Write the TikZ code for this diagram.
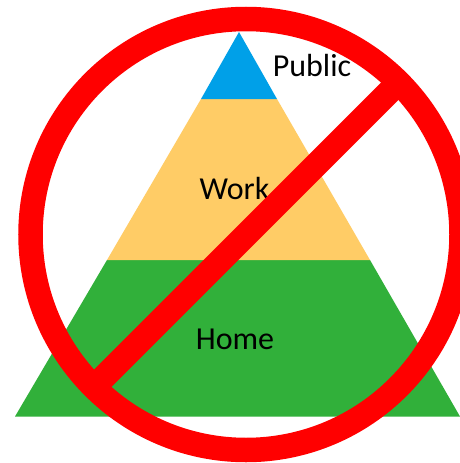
\documentclass[tikz,border=0pt]{standalone}
\usepackage{fontspec}
\setmainfont{Carlito}
\definecolor{tblue}{HTML}{00A0E8}
\definecolor{tyellow}{HTML}{FFCC66}
\definecolor{tgreen}{HTML}{31B03A}
\definecolor{tred}{HTML}{FF0000}
\begin{document}
\begin{tikzpicture}[x=1pt,y=-1pt,
  lbl/.style={font=\fontsize{32}{34}\selectfont,text=black,inner sep=0pt,anchor=base}]
\useasboundingbox (0,0) rectangle (460,463);
\fill[white] (0,0) rectangle (460,463);
\fill[tgreen] (107,260) -- (370,260) -- (460,416.5) -- (15,416.5) -- cycle;
\fill[tyellow] (201,99) -- (277,99) -- (370,260) -- (107,260) -- cycle;
\fill[tblue] (239,32) -- (277,99) -- (201,99) -- cycle;
\node[lbl] (public) at (312,76) {Public};
\node[lbl] (work) at (234.5,199) {Work};
\node[lbl] (home) at (235,349) {Home};
\draw[tred,line width=24.5pt] (246,234.5) circle (215.5);
\draw[tred,line width=24.5pt] (102,379) -- (391,90);
\end{tikzpicture}
\end{document}
